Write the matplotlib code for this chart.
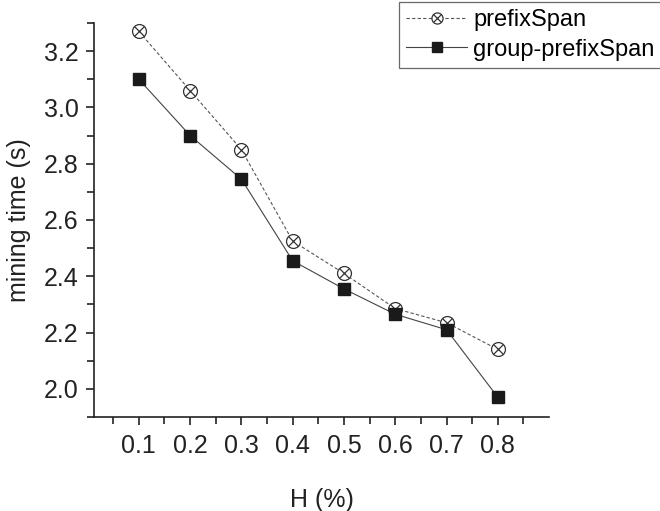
import matplotlib
matplotlib.use("Agg")
import matplotlib.pyplot as plt
from matplotlib.ticker import MultipleLocator
from matplotlib.legend_handler import HandlerTuple

plt.rcParams['font.family'] = ['Liberation Sans', 'DejaVu Sans']

h_values = [0.1, 0.2, 0.3, 0.4, 0.5, 0.6, 0.7, 0.8]
prefixspan = [3.27, 3.06, 2.85, 2.525, 2.41, 2.285, 2.235, 2.14]
group_prefixspan = [3.10, 2.90, 2.745, 2.455, 2.355, 2.265, 2.21, 1.97]
x_ticklabels = ['0.1', '0.2', '0.3', '0.4', '0.5', '0.6', '0.7', '0.8']
x_minor = [0.05, 0.15, 0.25, 0.35, 0.45, 0.55, 0.65, 0.75, 0.85]

fig = plt.figure(figsize=(6.6, 5.11), dpi=100)
ax = fig.add_axes([0.1424, 0.184, 0.832 - 0.1424, 0.955 - 0.184])

c_dark = '#222222'
# prefixSpan: circle with a cross inside
p1, = ax.plot(h_values, prefixspan, linestyle=(0, (3, 2)), color='#555555', lw=0.8,
              marker='o', markersize=10, markerfacecolor='white',
              markeredgecolor='#333333', markeredgewidth=0.9)
p2, = ax.plot(h_values, prefixspan, linestyle='none', marker='x', markersize=7,
              markeredgecolor='#333333', markeredgewidth=0.9)
g1, = ax.plot(h_values, group_prefixspan, linestyle='-', color='#444444', lw=0.8,
              marker='s', markersize=9, markerfacecolor='#1a1a1a',
              markeredgecolor='#1a1a1a')

ax.set_xlim(0.0125, 0.9)
ax.set_ylim(1.9, 3.3)
ax.set_xticks(h_values)
ax.set_xticklabels(x_ticklabels)
ax.set_xticks(x_minor, minor=True)
ax.yaxis.set_major_locator(MultipleLocator(0.2))
ax.yaxis.set_minor_locator(MultipleLocator(0.1))

ax.spines['top'].set_visible(False)
ax.spines['right'].set_visible(False)
for s in ['left', 'bottom']:
    ax.spines[s].set_linewidth(1.2)
    ax.spines[s].set_color(c_dark)

ax.tick_params(which='major', direction='out', length=6, width=1.2, labelsize=18,
               colors=c_dark, labelcolor=c_dark)
ax.tick_params(which='minor', direction='out', length=5, width=1.2, colors=c_dark)
ax.tick_params(axis='y', pad=5)
ax.tick_params(axis='x', pad=6)

ax.set_xlabel('H (%)', fontsize=18, color=c_dark, labelpad=22)
ax.set_ylabel('mining time (s)', fontsize=18, color=c_dark, labelpad=9)

leg = fig.legend([(p1, p2), g1], ['prefixSpan', 'group-prefixSpan'],
                 handler_map={tuple: HandlerTuple(ndivide=1, pad=0)},
                 loc='upper right', bbox_to_anchor=(1.006, 1.0), fontsize=17,
                 frameon=True, fancybox=False, edgecolor='#444444',
                 handlelength=2.6, handletextpad=0.25, borderpad=0.3,
                 labelspacing=0.3, borderaxespad=0.1, markerscale=0.8)
leg.get_frame().set_linewidth(0.9)

fig.savefig('out.png', dpi=100)
